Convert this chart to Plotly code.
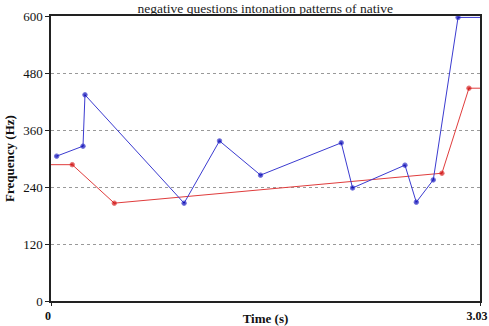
import plotly.graph_objects as go

blue_t = [0.040, 0.226, 0.240, 0.940, 1.19, 1.48, 2.05, 2.13, 2.50, 2.58, 2.70, 2.875, 3.03]
blue_f = [305, 326, 434, 206, 337, 265, 333, 238, 286, 208, 255, 597, 597]
blue_marker = [1] * 12 + [0]

red_t = [0.0, 0.150, 0.447, 2.761, 2.952, 3.03]
red_f = [287, 287, 206, 269, 448, 448]
red_marker = [0, 1, 1, 1, 1, 0]

y_ticks = [0, 120, 240, 360, 480, 600]
x_ticks = [0, 3.03]
x_labels = ["0", "3.03"]

fig = go.Figure()
fig.add_trace(go.Scatter(
    x=red_t, y=red_f, mode="lines+markers",
    line=dict(color="#e03c3c", width=1),
    marker=dict(color="#cc0000", size=[4.5 * m for m in red_marker]),
    showlegend=False, cliponaxis=False))
fig.add_trace(go.Scatter(
    x=blue_t, y=blue_f, mode="lines+markers",
    line=dict(color="#3b3bd0", width=1),
    marker=dict(color="#0000b0", size=[4.5 * m for m in blue_marker]),
    showlegend=False, cliponaxis=False))

font = "Liberation Serif, Times New Roman, serif"
tf = dict(family=font, size=13, color="#111")
fig.update_layout(
    width=489, height=326,
    margin=dict(l=51, r=9, t=16, b=25),
    plot_bgcolor="white", paper_bgcolor="white",
    font=dict(family=font, size=12, color="#111"),
    title=dict(text="negative questions intonation patterns of native",
               x=0.5425, xanchor="center", y=0.99, yanchor="top",
               font=dict(family=font, size=13.5, color="#222")),
    xaxis=dict(range=[0, 3.03], tickvals=x_ticks,
               ticktext=["<b>%s</b>" % s for s in x_labels],
               tickfont=dict(family=font, size=12, color="#111"),
               automargin=False, ticklabeloverflow="allow", ticklabelshift=-3,
               showgrid=False, zeroline=False,
               showline=True, linecolor="#222", linewidth=1.5, mirror=True,
               ticks="outside", ticklen=3, tickcolor="#222",
               title=dict(text="<b>Time (s)</b>", standoff=6,
                          font=dict(family=font, size=13))),
    yaxis=dict(range=[0, 600], tickvals=y_ticks,
               tickfont=tf, automargin=False, ticklabeloverflow="allow",
               showgrid=True, gridcolor="#999", griddash="dot", gridwidth=1,
               zeroline=False,
               showline=True, linecolor="#222", linewidth=1.5, mirror=True,
               ticks="outside", ticklen=4, tickcolor="#222",
               title=dict(text="<b>Frequency (Hz)</b>", standoff=6,
                          font=dict(family=font, size=13))),
)
fig.write_html("out.html")
